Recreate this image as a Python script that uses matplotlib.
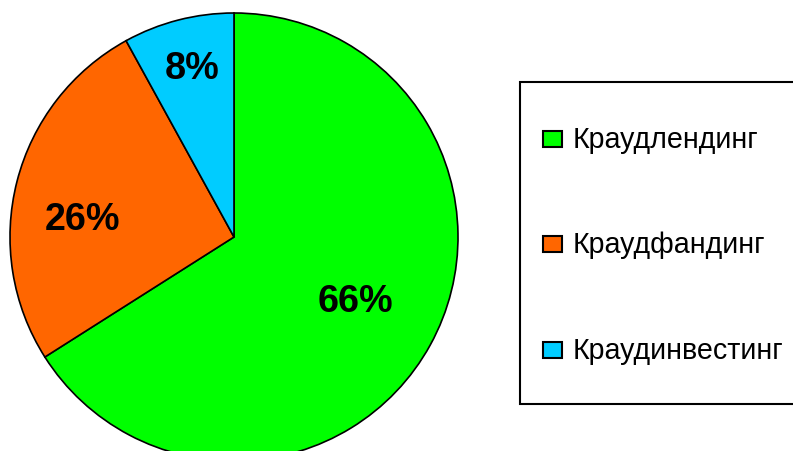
import matplotlib
matplotlib.use("Agg")
import matplotlib.pyplot as plt
from matplotlib.patches import Rectangle

categories = ["Краудлендинг", "Краудфандинг", "Краудинвестинг"]
shares = [66, 26, 8]
colors = ["#00FF00", "#FF6600", "#00CCFF"]
pct_labels = ["66%", "26%", "8%"]
# label anchor positions (data coords, baseline) – styling only
label_pos = [(0.542, -0.330), (-0.676, 0.036), (-0.1875, 0.710)]

W, H = 793, 452
fig = plt.figure(figsize=(W / 100, H / 100), dpi=100)
plt.rcParams['font.family'] = ['Liberation Sans', 'DejaVu Sans']

cx, cy, R = 234, 238, 224  # pixels from top-left
ax = fig.add_axes([(cx - R) / W, (H - cy - R) / H, 2 * R / W, 2 * R / H])
wedges, _ = ax.pie(shares, colors=colors, startangle=90, counterclock=False,
                   radius=1.0,
                   wedgeprops=dict(edgecolor="black", linewidth=1.2))
for w in wedges:
    w.set_clip_on(False)
ax.set_xlim(-1, 1)
ax.set_ylim(-1, 1)
ax.set_aspect("equal")
ax.axis("off")

for txt, (x, y) in zip(pct_labels, label_pos):
    ax.text(x, y, txt, ha="center", va="baseline", fontsize=27.2,
            fontweight="bold", color="black")

# legend (manual)
def fx(px):
    return px / W

def fy(py):
    return 1 - py / H

frame = Rectangle((fx(520), fy(405)), fx(805) - fx(520), fy(83) - fy(405),
                  transform=fig.transFigure, facecolor="white",
                  edgecolor="black", linewidth=1.5, zorder=1)
fig.add_artist(frame)
rows_y = [139.5, 245, 351.3]
for cat, col, ry in zip(categories, colors, rows_y):
    sq = Rectangle((fx(543), fy(ry + 8)), fx(19), 16 / H,
                   transform=fig.transFigure, facecolor=col,
                   edgecolor="black", linewidth=1.5, zorder=2)
    fig.add_artist(sq)
    fig.text(fx(573), fy(ry + 8), cat, ha="left", va="baseline", fontsize=20.6,
             color="black", zorder=3)

fig.savefig("out.png", dpi=100)
